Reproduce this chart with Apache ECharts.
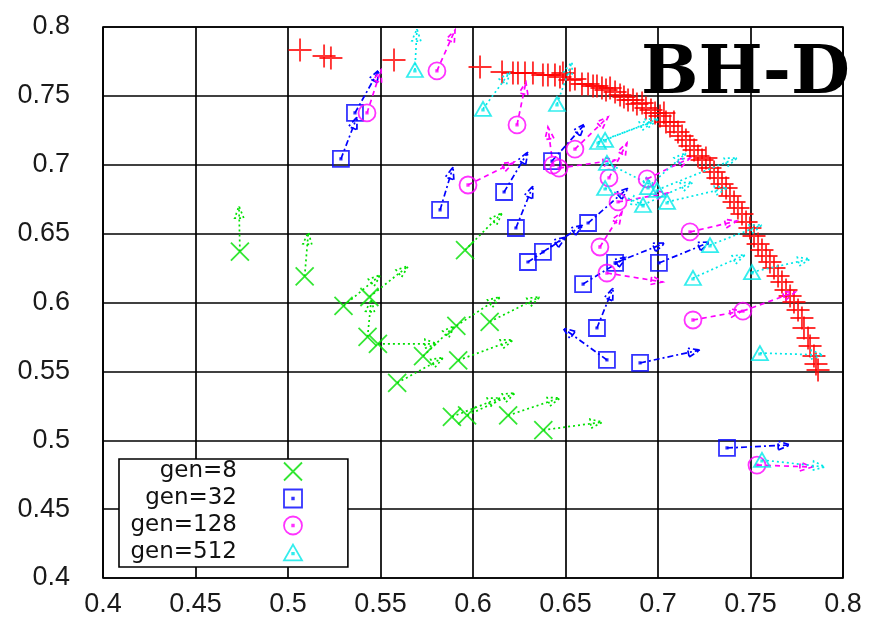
<!DOCTYPE html>
<html>
<head>
<meta charset="utf-8">
<script src="https://cdn.jsdelivr.net/npm/echarts/dist/echarts.min.js"></script>
<style>
  html, body { margin: 0; padding: 0; background: #fff; }
  #chart { width: 871px; height: 620px; }
</style>
</head>
<body>
<div id="chart"></div>
<script>
// Non-dominated front (red crosses), [x, y]
const frontPoints = [
  [0.5065,0.7833],[0.5195,0.7789],[0.5232,0.7775],[0.5573,0.7760],[0.6038,0.7710],
  [0.6157,0.7673],[0.6216,0.7666],[0.6243,0.7666],[0.6281,0.7666],[0.6324,0.7666],
  [0.6378,0.7652],[0.6405,0.7652],[0.6443,0.7652],[0.6470,0.7637],[0.6486,0.7666],
  [0.6524,0.7615],[0.6551,0.7623],[0.6589,0.7586],[0.6622,0.7586],[0.6649,0.7572],
  [0.6670,0.7572],[0.6697,0.7557],[0.6719,0.7543],[0.6741,0.7557],[0.6768,0.7528],
  [0.6795,0.7506],[0.6816,0.7492],[0.6838,0.7470],[0.6865,0.7470],[0.6886,0.7441],
  [0.6914,0.7448],[0.6935,0.7412],[0.6962,0.7397],[0.6984,0.7376],[0.7011,0.7354],
  [0.7032,0.7376],[0.7043,0.7310],[0.7065,0.7281],[0.7086,0.7310],[0.7108,0.7238],
  [0.7130,0.7209],[0.7151,0.7180],[0.7173,0.7136],[0.7195,0.7107],[0.7216,0.7064],
  [0.7238,0.7034],[0.7259,0.7049],[0.7281,0.6976],[0.7303,0.6947],[0.7324,0.6904],
  [0.7346,0.6860],[0.7368,0.6831],[0.7389,0.6773],[0.7411,0.6730],[0.7432,0.6686],
  [0.7454,0.6642],[0.7476,0.6584],[0.7497,0.6541],[0.7519,0.6483],[0.7541,0.6425],
  [0.7562,0.6381],[0.7584,0.6338],[0.7605,0.6294],[0.7627,0.6250],[0.7649,0.6192],
  [0.7670,0.6149],[0.7692,0.6091],[0.7714,0.6047],[0.7735,0.6004],[0.7757,0.5946],
  [0.7778,0.5888],[0.7789,0.5815],[0.7811,0.5742],[0.7822,0.5684],[0.7843,0.5612],
  [0.7854,0.5554],[0.7865,0.5510]
];

// Moves per generation: [x from, y from, x to, y to]
const gen8Moves = [
  [0.474,0.637,0.4735,0.670],[0.509,0.619,0.511,0.651],[0.530,0.5975,0.550,0.620],
  [0.544,0.604,0.565,0.6265],[0.543,0.575,0.545,0.602],[0.5486,0.570,0.5805,0.570],
  [0.559,0.5416,0.584,0.560],[0.573,0.561,0.590,0.583],[0.591,0.583,0.6146,0.604],
  [0.592,0.558,0.6216,0.5728],[0.609,0.586,0.636,0.604],[0.5957,0.638,0.6157,0.665],
  [0.5886,0.517,0.6146,0.5307],[0.5968,0.518,0.6227,0.5343],[0.619,0.518,0.647,0.5307],
  [0.638,0.5074,0.670,0.5132]
];
const gen32Moves = [
  [0.5286,0.7042,0.5373,0.7347],[0.5362,0.7376,0.5492,0.7688],[0.5822,0.6672,0.5892,0.6984],
  [0.6168,0.6802,0.6297,0.7093],[0.6232,0.6541,0.6324,0.6846],[0.6297,0.6294,0.6503,0.6475],
  [0.6378,0.6367,0.6595,0.6563],[0.6427,0.7027,0.6605,0.7296],[0.6622,0.6577,0.6838,0.6831],
  [0.6595,0.6134,0.6832,0.6330],[0.6768,0.6287,0.7038,0.6432],[0.7005,0.6287,0.7281,0.6439],
  [0.6670,0.5815,0.6757,0.6105],[0.6724,0.5583,0.6486,0.5815],[0.6903,0.5561,0.7227,0.5655],
  [0.7373,0.4944,0.7714,0.4966]
];
const gen128Moves = [
  [0.5427,0.7376,0.5503,0.7688],[0.5805,0.7681,0.5903,0.7978],[0.6238,0.7289,0.6286,0.7600],
  [0.5973,0.6853,0.6222,0.7020],[0.6432,0.6998,0.6405,0.7274],[0.6465,0.6976,0.6768,0.7034],
  [0.6551,0.7114,0.6730,0.7347],[0.6735,0.6904,0.6832,0.7158],[0.6941,0.6897,0.7173,0.7049],
  [0.6784,0.6730,0.7054,0.6795],[0.6686,0.6403,0.6805,0.6657],[0.6724,0.6214,0.7027,0.6149],
  [0.7173,0.6512,0.7427,0.6592],[0.7189,0.5873,0.7454,0.5938],[0.7459,0.5938,0.7741,0.6076],
  [0.7535,0.4820,0.7832,0.4806]
];
const gen512Moves = [
  [0.5686,0.7688,0.5697,0.7985],[0.6054,0.7405,0.6200,0.7673],[0.6454,0.7441,0.6535,0.7746],
  [0.6676,0.7165,0.6968,0.7310],[0.6714,0.7180,0.7000,0.7332],[0.6724,0.7013,0.6984,0.6838],
  [0.6714,0.6831,0.6919,0.6708],[0.6946,0.6838,0.7151,0.7085],[0.6995,0.6817,0.7427,0.7049],
  [0.6919,0.6708,0.7189,0.6875],[0.7049,0.6730,0.7373,0.6831],[0.7281,0.6417,0.7562,0.6563],
  [0.7189,0.6178,0.7470,0.6345],[0.7508,0.6221,0.7822,0.6316],[0.7551,0.5633,0.7892,0.5619],
  [0.7562,0.4857,0.7903,0.4806]
];

const genNames = ['gen=8', 'gen=32', 'gen=128', 'gen=512'];
const titleText = 'BH-D';

// Marker shapes (stroked outlines)
const SYM_PLUS = 'path://M0,-10V10M-10,0H10';
const SYM_CROSS = 'path://M-10,-10L10,10M-10,10L10,-10';
const SYM_SQUARE = 'path://M-8,-8H8V8H-8Z M-0.7,-0.7H0.7V0.7H-0.7Z';
const SYM_CIRCLE = 'path://M-8,0A8,8 0 1,0 8,0A8,8 0 1,0 -8,0Z M-0.7,-0.7H0.7V0.7H-0.7Z';
const SYM_TRIANGLE = 'path://M0,-8L8,6L-8,6Z M-0.7,-0.7H0.7V0.7H-0.7Z';

const styles = [
  { moves: gen8Moves,   color: '#00e000', dash: [2, 3],        symbol: SYM_CROSS,    size: 18 },
  { moves: gen32Moves,  color: '#0000ff', dash: [6, 3, 2, 3],  symbol: SYM_SQUARE,   size: 16 },
  { moves: gen128Moves, color: '#ff00ff', dash: [5, 4],        symbol: SYM_CIRCLE,   size: 17 },
  { moves: gen512Moves, color: '#00e8e8', dash: [2, 3],        symbol: SYM_TRIANGLE, size: [16, 14] }
];

// Arrow from (x0,y0) to (x1,y1) with an outlined head
function arrowRenderer(color, dash) {
  return function (params, api) {
    const a = api.coord([api.value(0), api.value(1)]);
    const b = api.coord([api.value(2), api.value(3)]);
    const dx = b[0] - a[0], dy = b[1] - a[1];
    const len = Math.sqrt(dx * dx + dy * dy) || 1;
    const ux = dx / len, uy = dy / len;
    const L = 12, W = 4.5;
    const bx = b[0] - ux * L, by = b[1] - uy * L;
    const w1 = [bx - uy * W, by + ux * W];
    const w2 = [bx + uy * W, by - ux * W];
    const style = { stroke: color, lineWidth: 1.7, lineDash: dash, fill: 'none' };
    return {
      type: 'group',
      children: [
        { type: 'line', shape: { x1: a[0], y1: a[1], x2: b[0], y2: b[1] }, style: style },
        { type: 'polygon', shape: { points: [w1, [b[0], b[1]], w2] }, style: style }
      ]
    };
  };
}

const series = [{
  name: 'front',
  type: 'scatter',
  data: frontPoints,
  symbol: SYM_PLUS,
  symbolSize: 23,
  itemStyle: { color: 'rgba(0,0,0,0)', borderColor: '#ff0000', borderWidth: 1.9 },
  z: 3
}];

styles.forEach(function (s, i) {
  series.push({
    name: genNames[i] + ' moves',
    type: 'custom',
    renderItem: arrowRenderer(s.color, s.dash),
    data: s.moves,
    encode: { x: [0, 2], y: [1, 3] },
    clip: false,
    z: 4
  });
  series.push({
    name: genNames[i],
    type: 'scatter',
    data: s.moves.map(function (m) { return [m[0], m[1]]; }),
    symbol: s.symbol,
    symbolSize: s.size,
    itemStyle: { color: 'rgba(0,0,0,0)', borderColor: s.color, borderWidth: 1.8 },
    z: 5
  });
});

const axisLabelStyle = { fontFamily: 'Liberation Sans', fontSize: 27, color: '#1a1a1a' };
const gridLine = { show: true, lineStyle: { color: '#000', width: 1.7 } };

const chart = echarts.init(document.getElementById('chart'), null, { renderer: 'canvas' });
chart.setOption({
  animation: false,
  backgroundColor: '#fff',
  title: {
    text: titleText,
    right: 21,
    top: 41,
    padding: 0,
    textStyle: { fontFamily: 'DejaVu Serif', fontWeight: 'bold', fontSize: 68, color: '#000' }
  },
  grid: {
    left: 103, right: 28, top: 27, bottom: 42,
    show: true, borderColor: '#000', borderWidth: 1.7, backgroundColor: '#fff'
  },
  xAxis: {
    type: 'value', min: 0.4, max: 0.8, interval: 0.05,
    axisLine: { show: false }, axisTick: { show: false },
    splitLine: gridLine,
    axisLabel: Object.assign({ margin: 13 }, axisLabelStyle)
  },
  yAxis: {
    type: 'value', min: 0.4, max: 0.8, interval: 0.05,
    axisLine: { show: false }, axisTick: { show: false },
    splitLine: gridLine,
    axisLabel: Object.assign({ margin: 33 }, axisLabelStyle)
  },
  legend: {
    orient: 'vertical',
    left: 119, top: 459,
    padding: [1, 45, 3, 8],
    itemWidth: 18, itemHeight: 18, itemGap: 4,
    align: 'right',
    selectedMode: false,
    borderColor: '#000', borderWidth: 1.6,
    backgroundColor: '#fff',
    data: genNames.map(function (n, i) {
      return {
        name: n,
        icon: styles[i].symbol,
        itemStyle: { color: 'rgba(0,0,0,0)', borderColor: styles[i].color, borderWidth: 1.8 }
      };
    }),
    formatter: function (n) { return '{t|' + n + '}{g| }'; },
    textStyle: {
      rich: {
        t: { width: 110, align: 'right', fontFamily: 'DejaVu Sans', fontSize: 23, lineHeight: 24, color: '#111' },
        g: { width: 42, fontSize: 23, lineHeight: 24 }
      }
    }
  },
  series: series
});
</script>
</body>
</html>
